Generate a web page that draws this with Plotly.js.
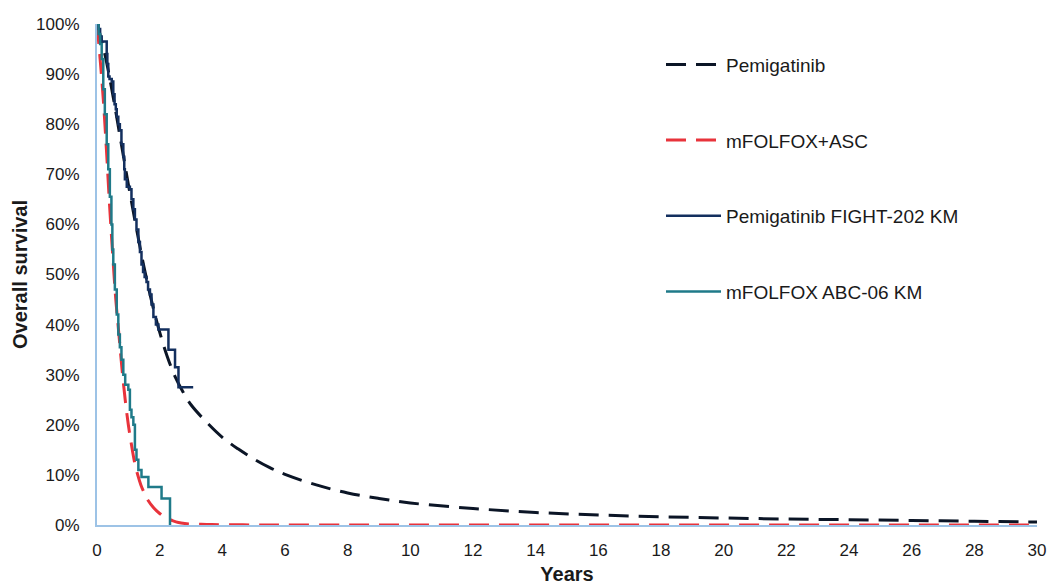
<!DOCTYPE html>
<html>
<head>
<meta charset="utf-8">
<script src="https://cdn.plot.ly/plotly-3.0.1.min.js"></script>
<style>html,body{margin:0;padding:0;background:#fff;}#chart{width:1048px;height:586px;}</style>
</head>
<body>
<div id="chart"></div>
<script>
// Modelled curves
const pemiModelYears = [0, 0.25, 0.5, 0.75, 1.0, 1.25, 1.5, 1.75, 2.0, 2.25, 2.5, 2.75, 3.0, 3.5, 4, 4.5, 5, 5.5, 6, 7, 8, 9, 10, 12, 14, 16, 18, 20, 22, 24, 26, 28, 30];
const pemiModelOS = [1.0, 0.94, 0.86, 0.77, 0.68, 0.595, 0.515, 0.445, 0.385, 0.335, 0.295, 0.265, 0.24, 0.205, 0.175, 0.152, 0.132, 0.115, 0.101, 0.08, 0.064, 0.053, 0.044, 0.033, 0.025, 0.02, 0.0165, 0.014, 0.012, 0.0105, 0.009, 0.0075, 0.006];

const folfoxModelYears = [0, 0.1, 0.2, 0.3, 0.4, 0.5, 0.6, 0.7, 0.8, 0.9, 1.0, 1.1, 1.2, 1.3, 1.4, 1.5, 1.6, 1.8, 2.0, 2.2, 2.4, 2.6, 2.8, 3.0, 3.5, 4, 5, 6, 8, 10, 15, 20, 25, 30];
const folfoxModelOS = [1.0, 0.93, 0.85, 0.75, 0.64, 0.54, 0.45, 0.38, 0.31, 0.25, 0.20, 0.16, 0.125, 0.10, 0.08, 0.065, 0.052, 0.035, 0.023, 0.014, 0.009, 0.005, 0.003, 0.002, 0.001, 0.0005, 0.0002, 0.0001, 0, 0, 0, 0, 0, 0];

// Kaplan-Meier curves
const pemiKMYears = [0, 0.05, 0.10, 0.15, 0.31, 0.33, 0.36, 0.40, 0.47, 0.52, 0.56, 0.60, 0.63, 0.68, 0.73, 0.78, 0.84, 0.87, 0.89, 0.95, 1.05, 1.10, 1.16, 1.21, 1.26, 1.32, 1.37, 1.42, 1.47, 1.52, 1.58, 1.63, 1.69, 1.74, 1.80, 1.88, 1.96, 2.28, 2.49, 2.60, 3.07];
const pemiKMOS = [1.0, 0.99, 0.975, 0.965, 0.94, 0.92, 0.895, 0.89, 0.885, 0.86, 0.84, 0.83, 0.815, 0.80, 0.788, 0.76, 0.735, 0.71, 0.69, 0.675, 0.67, 0.65, 0.63, 0.61, 0.59, 0.565, 0.545, 0.52, 0.505, 0.495, 0.485, 0.47, 0.46, 0.44, 0.415, 0.40, 0.39, 0.35, 0.315, 0.275, 0.275];

const folfoxKMYears = [0, 0.05, 0.10, 0.15, 0.20, 0.25, 0.31, 0.36, 0.41, 0.46, 0.49, 0.52, 0.57, 0.63, 0.68, 0.73, 0.78, 0.84, 0.90, 1.00, 1.05, 1.10, 1.16, 1.21, 1.26, 1.32, 1.42, 1.64, 2.06, 2.33];
const folfoxKMOS = [1.0, 0.98, 0.96, 0.93, 0.87, 0.82, 0.76, 0.71, 0.655, 0.60, 0.55, 0.52, 0.47, 0.42, 0.38, 0.355, 0.33, 0.30, 0.28, 0.27, 0.23, 0.215, 0.20, 0.15, 0.13, 0.11, 0.096, 0.076, 0.053, 0.0];

const seriesNames = ['Pemigatinib', 'mFOLFOX+ASC', 'Pemigatinib FIGHT-202 KM', 'mFOLFOX ABC-06 KM'];
const xTickVals = [0, 2, 4, 6, 8, 10, 12, 14, 16, 18, 20, 22, 24, 26, 28, 30];
const yTickVals = [0, 0.1, 0.2, 0.3, 0.4, 0.5, 0.6, 0.7, 0.8, 0.9, 1.0];

const FONT = '"Liberation Sans", Arial, sans-serif';

const traces = [
  {x: pemiModelYears, y: pemiModelOS, name: seriesNames[0], mode: 'lines', legendgroup: 'a',
   line: {color: '#0b1526', width: 3, dash: '20px,10px', shape: 'spline'}},
  {x: folfoxModelYears, y: folfoxModelOS, name: seriesNames[1], mode: 'lines', legendgroup: 'b',
   line: {color: '#e8333b', width: 3, dash: '20px,10px', shape: 'spline'}},
  {x: pemiKMYears, y: pemiKMOS, name: seriesNames[2], mode: 'lines', legendgroup: 'c',
   line: {color: '#132f5e', width: 2.5, shape: 'hv'}},
  {x: folfoxKMYears, y: folfoxKMOS, name: seriesNames[3], mode: 'lines', legendgroup: 'd',
   line: {color: '#1f7a89', width: 2.5, shape: 'hv'}}
];

const layout = {
  width: 1048, height: 586,
  margin: {l: 97, r: 11, t: 24, b: 61},
  paper_bgcolor: '#ffffff', plot_bgcolor: '#ffffff',
  font: {family: FONT, color: '#1a1a1a', size: 17},
  showlegend: true,
  legend: {
    x: 0.6, y: 0.957, xanchor: 'left', yanchor: 'top',
    font: {family: FONT, size: 19, color: '#1a1a1a'},
    itemwidth: 55, traceorder: 'grouped', tracegroupgap: 48,
    bgcolor: 'rgba(0,0,0,0)'
  },
  xaxis: {
    range: [0, 30], tickvals: xTickVals, ticktext: xTickVals.map(String),
    showgrid: false, zeroline: false,
    showline: true, linecolor: '#9dc3e6', linewidth: 2,
    ticks: 'outside', ticklen: 9, tickcolor: 'rgba(0,0,0,0)',
    tickfont: {family: FONT, size: 17, color: '#1a1a1a'},
    title: {text: '<b>Years</b>', font: {family: FONT, size: 20, color: '#1a1a1a'}, standoff: 8}
  },
  yaxis: {
    range: [0, 1.0], tickvals: yTickVals, tickformat: '.0%',
    showgrid: false, zeroline: false,
    showline: true, linecolor: '#9dc3e6', linewidth: 2,
    ticks: 'outside', ticklen: 12, tickcolor: 'rgba(0,0,0,0)',
    tickfont: {family: FONT, size: 17, color: '#1a1a1a'},
    title: {text: '<b>Overall survival</b>', font: {family: FONT, size: 20, color: '#1a1a1a'}, standoff: 3}
  }
};

Plotly.newPlot('chart', traces, layout, {displayModeBar: false, staticPlot: true});
</script>
</body>
</html>
